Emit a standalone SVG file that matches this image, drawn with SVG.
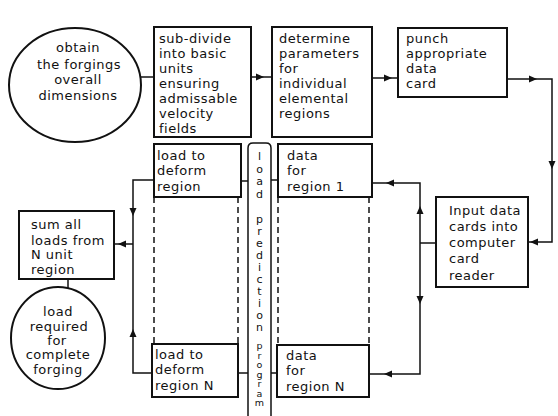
<svg xmlns="http://www.w3.org/2000/svg" xmlns:xlink="http://www.w3.org/1999/xlink" width="558" height="416" viewBox="0 0 558 416">
<style>
.box{fill:#fff;stroke:#111;stroke-width:2}
.ln{fill:none;stroke:#111;stroke-width:1.5}
.dash{fill:none;stroke:#111;stroke-width:1.5;stroke-dasharray:6 4}
text{font-family:"DejaVu Sans","Liberation Sans",sans-serif;font-size:13px;fill:#111;letter-spacing:0.5px}
.c{text-anchor:middle}
.v{font-size:11px;letter-spacing:-0.5px;writing-mode:vertical-rl;text-orientation:upright}
</style>
<defs>
<path id="arr" d="M-4,-3.5 L4,0 L-4,3.5 Z" fill="#111"/>
</defs>
<rect width="558" height="416" fill="#fff"/>

<g id="connectors">
<path class="ln" d="M140,77 H154"/>
<path class="ln" d="M251,77 H272"/>
<path class="ln" d="M372,78 H398"/>
<path class="ln" d="M507,79 H552 V242 H528"/>
<path class="ln" d="M436,243 H420"/>
<path class="ln" d="M372,183 H420 V374 H369"/>
<path class="ln" d="M241,181 H248"/>
<path class="ln" d="M271,180 H278"/>
<path class="ln" d="M238,373 H248"/>
<path class="ln" d="M271,373 H277"/>
<path class="ln" d="M154,180 H133 V373 H152"/>
<path class="ln" d="M133,244 H114"/>
<path class="ln" d="M68,279 V288"/>
<path class="dash" d="M154,197 V344"/>
<path class="dash" d="M238,197 V344"/>
<path class="dash" d="M278,197 V345"/>
<path class="dash" d="M369,197 V345"/>
<use xlink:href="#arr" transform="translate(260,77)"/>
<use xlink:href="#arr" transform="translate(388,78)"/>
<use xlink:href="#arr" transform="translate(533,79)"/>
<use xlink:href="#arr" transform="translate(552,165) rotate(90)"/>
<use xlink:href="#arr" transform="translate(534,242) rotate(180)"/>
<use xlink:href="#arr" transform="translate(420,210) rotate(-90)"/>
<use xlink:href="#arr" transform="translate(420,300) rotate(90)"/>
<use xlink:href="#arr" transform="translate(390,183) rotate(180)"/>
<use xlink:href="#arr" transform="translate(388,374) rotate(180)"/>
<use xlink:href="#arr" transform="translate(133,212) rotate(90)"/>
<use xlink:href="#arr" transform="translate(133,333) rotate(-90)"/>
<use xlink:href="#arr" transform="translate(122,244) rotate(180)"/>
</g>

<g id="obtain">
<ellipse cx="75" cy="85" rx="66" ry="57" fill="#fff" stroke="#111" stroke-width="2"/>
<text class="c" x="78" y="52">obtain</text>
<text class="c" x="79" y="69">the forgings</text>
<text class="c" x="78" y="84">overall</text>
<text class="c" x="78" y="100">dimensions</text>
</g>

<g id="subdivide">
<rect class="box" x="154" y="27" width="97" height="110"/>
<text x="159" y="43">sub-divide</text>
<text x="159" y="58">into basic</text>
<text x="159" y="73">units</text>
<text x="159" y="88">ensuring</text>
<text x="159" y="103">admissable</text>
<text x="159" y="118">velocity</text>
<text x="159" y="133">fields</text>
</g>

<g id="determine">
<rect class="box" x="272" y="27" width="100" height="110"/>
<text x="279" y="43">determine</text>
<text x="279" y="58">parameters</text>
<text x="279" y="73">for</text>
<text x="279" y="88">individual</text>
<text x="279" y="103">elemental</text>
<text x="279" y="118">regions</text>
</g>

<g id="punch">
<rect class="box" x="398" y="28" width="109" height="69"/>
<text x="406" y="43">punch</text>
<text x="406" y="58">appropriate</text>
<text x="406" y="73">data</text>
<text x="406" y="88">card</text>
</g>

<g id="input">
<rect class="box" x="436" y="197" width="92" height="90"/>
<text x="449" y="215">Input data</text>
<text x="449" y="231">cards into</text>
<text x="449" y="247">computer</text>
<text x="449" y="263">card</text>
<text x="449" y="280">reader</text>
</g>

<g id="data1">
<rect class="box" x="278" y="144" width="94" height="53"/>
<text x="287" y="160">data</text>
<text x="287" y="175">for</text>
<text x="287" y="191">region 1</text>
</g>

<g id="dataN">
<rect class="box" x="277" y="345" width="92" height="52"/>
<text x="286" y="360">data</text>
<text x="286" y="375">for</text>
<text x="286" y="391">region N</text>
</g>

<g id="load1">
<rect class="box" x="154" y="144" width="87" height="53"/>
<text x="157" y="160">load to</text>
<text x="157" y="175">deform</text>
<text x="157" y="191">region</text>
</g>

<g id="loadN">
<rect class="box" x="152" y="344" width="86" height="53"/>
<text x="155" y="359">load to</text>
<text x="155" y="374">deform</text>
<text x="155" y="390">region N</text>
</g>

<g id="program">
<path class="ln" d="M248,416 V148 Q248,143 253,143 H266 Q271,143 271,148 V416"/>
<text class="v" x="259.5" y="150">load</text>
<text class="v" x="259.5" y="213" style="letter-spacing:-1px">prediction</text>
<text class="v" x="259.5" y="340" style="font-size:9.5px;letter-spacing:-1.5px">program</text>
</g>

<g id="sum">
<rect class="box" x="19" y="211" width="95" height="68"/>
<text x="31" y="229">sum all</text>
<text x="31" y="245">loads from</text>
<text x="31" y="259">N unit</text>
<text x="31" y="274">region</text>
</g>

<g id="required">
<ellipse cx="58" cy="338" rx="47" ry="51" fill="#fff" stroke="#111" stroke-width="2"/>
<text class="c" x="58" y="316">load</text>
<text class="c" x="59" y="331">required</text>
<text class="c" x="57" y="345">for</text>
<text class="c" x="58" y="359">complete</text>
<text class="c" x="58" y="374">forging</text>
</g>
</svg>
